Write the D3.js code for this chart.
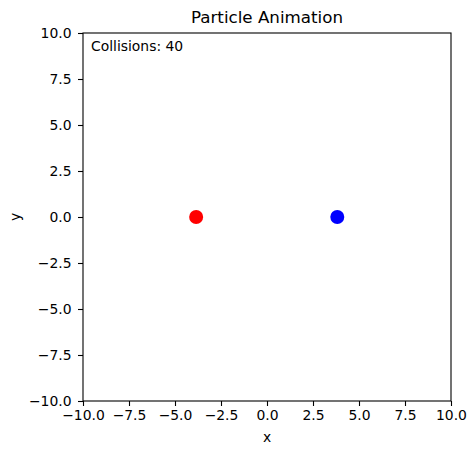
<!DOCTYPE html>
<html>
<head>
<meta charset="utf-8">
<script src="https://cdn.jsdelivr.net/npm/d3@7"></script>
<style>
  body { margin: 0; background: #fff; }
  svg text { font-family: "DejaVu Sans", sans-serif; fill: #000; }
</style>
</head>
<body>
<svg id="chart" width="476" height="455"></svg>
<script>
// particle positions (x, y) and colours
const particleX = [-3.85, 3.82];
const particleY = [0, 0];
const particleColors = ["#ff0000", "#0000ff"];
const ticks = [-10, -7.5, -5, -2.5, 0, 2.5, 5, 7.5, 10];
const collisions = 40;

const svg = d3.select("#chart");
const plotLeft = 83, plotTop = 33, plotSize = 368;

const x = d3.scaleLinear().domain([-10, 10]).range([plotLeft, plotLeft + plotSize]);
const y = d3.scaleLinear().domain([-10, 10]).range([plotTop + plotSize, plotTop]);

const fmt = d => d.toFixed(1).replace("-", "\u2212");

// x axis
const gx = svg.append("g")
  .attr("transform", `translate(0,${plotTop + plotSize})`)
  .call(d3.axisBottom(x).tickValues(ticks).tickFormat(fmt).tickSizeOuter(0).tickSize(5).tickPadding(4.5));
gx.select(".domain").remove();
gx.selectAll("text").style("font-size", "13.9px").style("font-family", "DejaVu Sans");
gx.selectAll("line").attr("stroke-width", 1.1);

// y axis
const gy = svg.append("g")
  .attr("transform", `translate(${plotLeft},0)`)
  .call(d3.axisLeft(y).tickValues(ticks).tickFormat(fmt).tickSizeOuter(0).tickSize(5).tickPadding(6.5));
gy.select(".domain").remove();
gy.selectAll("text").style("font-size", "13.9px").style("font-family", "DejaVu Sans");
gy.selectAll("line").attr("stroke-width", 1.1);

// frame
svg.append("rect")
  .attr("x", plotLeft).attr("y", plotTop)
  .attr("width", plotSize).attr("height", plotSize)
  .attr("fill", "none").attr("stroke", "#000").attr("stroke-width", 1.1);

// particles
svg.selectAll("circle.particle")
  .data(particleX.map((d, i) => ({x: d, y: particleY[i], c: particleColors[i]})))
  .join("circle")
  .attr("class", "particle")
  .attr("cx", d => x(d.x))
  .attr("cy", d => y(d.y))
  .attr("r", 7)
  .attr("fill", d => d.c);

// texts
svg.append("text")
  .attr("x", plotLeft + plotSize / 2).attr("y", 23)
  .attr("text-anchor", "middle")
  .style("font-size", "16.7px")
  .text("Particle Animation");

svg.append("text")
  .attr("x", plotLeft + plotSize / 2).attr("y", 442)
  .attr("text-anchor", "middle")
  .style("font-size", "13.9px")
  .text("x");

svg.append("text")
  .attr("transform", `translate(20,${plotTop + plotSize / 2}) rotate(-90)`)
  .attr("text-anchor", "middle")
  .style("font-size", "13.9px")
  .text("y");

svg.append("text")
  .attr("x", plotLeft + 8).attr("y", 51)
  .style("font-size", "13.9px")
  .text("Collisions: " + collisions);
</script>
</body>
</html>
